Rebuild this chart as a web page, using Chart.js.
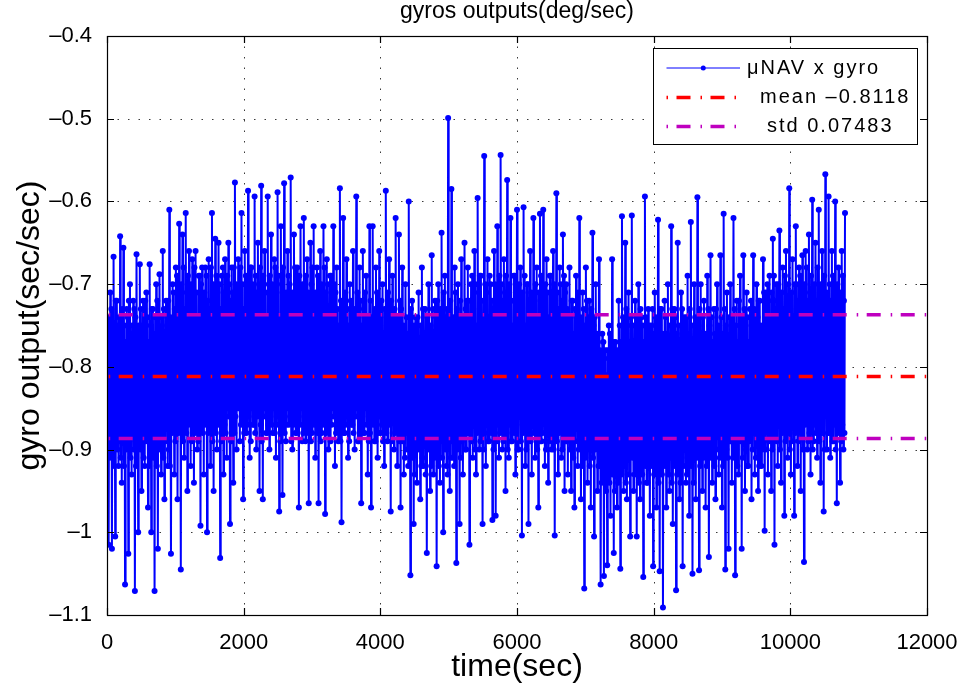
<!DOCTYPE html>
<html>
<head>
<meta charset="utf-8">
<title>gyros outputs</title>
<script src="https://cdn.jsdelivr.net/npm/chart.js@4.4.1/dist/chart.umd.min.js"></script>
<style>
  html, body { margin: 0; padding: 0; background: #fff; }
</style>
</head>
<body>
<canvas id="grafico-gyro" width="966" height="691"></canvas>
<script>
// muestreo del registro (s entre muestras de picos)
const sampleStep = 24;

// picos de la salida del giro x (alto / bajo alternados), t = 0, 24, 48 ...
const gyroOutput = [
  -0.76, -1.015, -0.71, -1.02, -0.667, -1.005, -0.72, -0.92, -0.642, -0.94, -0.656, -1.063, -0.73, -1.026, -0.70, -0.93, -0.72, -1.071, -0.664, -1.0,
  -0.676, -0.95, -0.72, -0.92, -0.71, -0.97, -0.676, -1.0, -0.73, -1.071, -0.70, -1.02, -0.688, -0.93, -0.66, -0.96, -0.72, -0.92, -0.61, -1.026,
  -0.70, -0.93, -0.68, -0.96, -0.627, -1.045, -0.64, -0.91, -0.614, -0.95, -0.66, -0.92, -0.67, -0.94, -0.66, -0.90, -0.69, -0.992, -0.68, -0.93,
  -0.68, -1.0, -0.67, -0.92, -0.614, -0.95, -0.645, -0.90, -0.65, -1.031, -0.69, -0.93, -0.67, -0.91, -0.65, -0.99, -0.68, -0.94, -0.577, -0.90,
  -0.67, -0.89, -0.614, -0.96, -0.66, -0.88, -0.587, -0.91, -0.68, -0.87, -0.594, -0.90, -0.65, -0.95, -0.581, -0.96, -0.66, -0.88, -0.594, -0.90,
  -0.64, -0.88, -0.67, -0.91, -0.589, -0.975, -0.63, -0.955, -0.578, -0.89, -0.66, -0.87, -0.571, -0.90, -0.64, -0.88, -0.68, -0.97, -0.63, -0.89,
  -0.62, -0.89, -0.67, -0.965, -0.65, -0.88, -0.63, -0.91, -0.68, -0.965, -0.66, -0.88, -0.63, -0.978, -0.67, -0.90, -0.69, -0.87, -0.63, -0.92,
  -0.68, -0.89, -0.584, -0.988, -0.62, -0.88, -0.67, -0.91, -0.70, -0.87, -0.66, -0.90, -0.594, -0.89, -0.68, -0.965, -0.66, -0.88, -0.69, -0.93,
  -0.63, -0.97, -0.63, -0.89, -0.68, -0.91, -0.66, -0.88, -0.70, -0.92, -0.587, -0.89, -0.67, -0.975, -0.69, -0.90, -0.62, -0.92, -0.64, -0.97,
  -0.68, -0.93, -0.70, -0.90, -0.60, -1.052, -0.72, -0.99, -0.74, -0.94, -0.71, -0.96, -0.68, -0.92, -0.73, -1.025, -0.70, -0.95, -0.665, -0.93,
  -0.72, -1.041, -0.70, -0.94, -0.638, -1.0, -0.69, -0.92, -0.499, -0.95, -0.585, -0.91, -0.68, -1.037, -0.70, -0.99, -0.67, -0.93, -0.65, -0.90,
  -0.68, -1.015, -0.70, -0.91, -0.66, -0.93, -0.596, -0.90, -0.69, -0.99, -0.545, -0.92, -0.67, -0.89, -0.70, -0.985, -0.66, -0.98, -0.63, -0.91,
  -0.544, -0.90, -0.67, -0.95, -0.574, -0.91, -0.62, -0.89, -0.69, -0.93, -0.61, -0.90, -0.68, -1.004, -0.607, -0.92, -0.70, -0.99, -0.66, -0.93,
  -0.62, -0.91, -0.68, -0.97, -0.615, -0.89, -0.61, -0.92, -0.67, -0.94, -0.69, -0.90, -0.66, -1.004, -0.59, -0.93, -0.68, -0.91, -0.64, -0.95,
  -0.70, -0.93, -0.68, -0.95, -0.72, -0.97, -0.69, -0.92, -0.62, -0.96, -0.71, -1.068, -0.68, -0.94, -0.72, -0.97, -0.638, -1.005, -0.70, -0.95,
  -0.67, -1.063, -0.76, -1.053, -0.78, -1.04, -0.75, -0.98, -0.67, -1.025, -0.77, -0.97, -0.72, -1.044, -0.618, -0.95, -0.65, -0.96, -0.71, -1.005,
  -0.617, -0.95, -0.72, -1.005, -0.70, -0.96, -0.74, -1.054, -0.594, -0.94, -0.73, -0.98, -0.75, -1.041, -0.71, -0.97, -0.622, -1.047, -0.73, -1.091,
  -0.72, -0.97, -0.70, -0.95, -0.63, -0.99, -0.73, -1.07, -0.65, -0.96, -0.71, -1.041, -0.74, -0.94, -0.69, -0.98, -0.625, -1.05, -0.70, -0.96,
  -0.595, -1.046, -0.70, -0.95, -0.72, -0.97, -0.69, -1.03, -0.665, -0.94, -0.73, -0.96, -0.70, -0.93, -0.665, -0.97, -0.615, -1.045, -0.71, -1.02,
  -0.70, -0.94, -0.62, -1.052, -0.72, -0.93, -0.69, -1.02, -0.665, -0.95, -0.71, -0.92, -0.73, -0.96, -0.665, -0.93, -0.70, -0.95, -0.72, -0.92,
  -0.67, -0.998, -0.71, -0.93, -0.69, -0.95, -0.645, -1.015, -0.70, -0.92, -0.635, -0.94, -0.68, -0.98, -0.66, -0.91, -0.584, -0.93, -0.67, -0.98,
  -0.63, -0.92, -0.68, -0.95, -0.665, -1.036, -0.66, -0.90, -0.64, -0.93, -0.598, -0.89, -0.65, -0.91, -0.61, -0.94, -0.66, -0.975, -0.567, -0.90,
  -0.594, -0.91, -0.66, -0.89, -0.60, -0.965, -0.68, -0.94, -0.66, -0.90, -0.614
];

// borde alto del nucleo solido de la banda, una muestra por intervalo
const coreHigh = [
  -0.74, -0.76, -0.73, -0.75, -0.77, -0.72, -0.75, -0.74, -0.76, -0.73, -0.75, -0.77, -0.74, -0.72, -0.76, -0.75, -0.73, -0.74, -0.77, -0.75,
  -0.73, -0.75, -0.76, -0.72, -0.74, -0.77, -0.75, -0.73, -0.76, -0.74, -0.72, -0.75, -0.77, -0.74, -0.73, -0.76, -0.75, -0.72, -0.74, -0.76,
  -0.71, -0.73, -0.69, -0.72, -0.74, -0.70, -0.68, -0.73, -0.71, -0.69, -0.74, -0.70, -0.72, -0.68, -0.71, -0.74, -0.69, -0.70, -0.73, -0.71,
  -0.69, -0.72, -0.73, -0.68, -0.70, -0.74, -0.69, -0.71, -0.70, -0.73, -0.68, -0.71, -0.74, -0.69, -0.70, -0.72, -0.71, -0.68, -0.70, -0.73,
  -0.71, -0.68, -0.70, -0.73, -0.69, -0.71, -0.74, -0.68, -0.70, -0.72, -0.69, -0.71, -0.70, -0.68, -0.73, -0.69, -0.71, -0.74, -0.70, -0.69,
  -0.70, -0.72, -0.68, -0.71, -0.69, -0.74, -0.70, -0.68, -0.72, -0.71, -0.69, -0.70, -0.73, -0.71, -0.68, -0.70, -0.72, -0.69, -0.71, -0.70,
  -0.72, -0.69, -0.71, -0.74, -0.70, -0.68, -0.72, -0.71, -0.69, -0.73, -0.70, -0.72, -0.68, -0.71, -0.70, -0.73, -0.69, -0.72, -0.70, -0.71,
  -0.73, -0.75, -0.72, -0.74, -0.76, -0.71, -0.73, -0.75, -0.72, -0.74, -0.73, -0.76, -0.71, -0.74, -0.72, -0.75, -0.73, -0.71, -0.74, -0.76,
  -0.72, -0.74, -0.76, -0.73, -0.71, -0.75, -0.74, -0.72, -0.76, -0.73, -0.75, -0.71, -0.74, -0.72, -0.76, -0.73, -0.75, -0.74, -0.72, -0.73,
  -0.75, -0.77, -0.74, -0.76, -0.78, -0.73, -0.76, -0.75, -0.77, -0.74, -0.78, -0.75, -0.73, -0.76, -0.77, -0.74, -0.76, -0.75, -0.73, -0.77,
  -0.74, -0.72, -0.75, -0.73, -0.76, -0.71, -0.74, -0.73, -0.75, -0.72, -0.76, -0.74, -0.71, -0.73, -0.75, -0.72, -0.74, -0.76, -0.73, -0.72,
  -0.72, -0.74, -0.69, -0.73, -0.70, -0.75, -0.71, -0.69, -0.74, -0.72, -0.70, -0.71, -0.75, -0.69, -0.72, -0.74, -0.70, -0.71, -0.73, -0.69,
  -0.70, -0.72, -0.71, -0.69, -0.74, -0.70, -0.72, -0.75, -0.69, -0.71, -0.74, -0.70, -0.72, -0.71, -0.69, -0.75, -0.70, -0.72, -0.71, -0.73,
  -0.72, -0.70, -0.74, -0.71, -0.69, -0.72, -0.75, -0.70, -0.71, -0.74, -0.69, -0.72, -0.70, -0.75, -0.71, -0.73, -0.70, -0.72, -0.69, -0.71,
  -0.73, -0.75, -0.74, -0.72, -0.76, -0.73, -0.75, -0.71, -0.74, -0.76, -0.73, -0.75, -0.72, -0.74, -0.77, -0.73, -0.75, -0.74, -0.76, -0.77,
  -0.78, -0.80, -0.77, -0.79, -0.81, -0.78, -0.76, -0.80, -0.79, -0.77, -0.81, -0.78, -0.75, -0.77, -0.74, -0.76, -0.73, -0.75, -0.77, -0.74,
  -0.75, -0.77, -0.74, -0.76, -0.78, -0.73, -0.75, -0.77, -0.74, -0.76, -0.75, -0.78, -0.73, -0.76, -0.74, -0.77, -0.75, -0.73, -0.76, -0.78,
  -0.74, -0.76, -0.78, -0.75, -0.73, -0.77, -0.74, -0.76, -0.75, -0.78, -0.73, -0.75, -0.77, -0.74, -0.76, -0.73, -0.75, -0.78, -0.74, -0.76,
  -0.75, -0.73, -0.77, -0.74, -0.76, -0.78, -0.73, -0.75, -0.74, -0.77, -0.76, -0.73, -0.75, -0.78, -0.74, -0.76, -0.73, -0.75, -0.77, -0.74,
  -0.74, -0.76, -0.73, -0.75, -0.77, -0.72, -0.74, -0.76, -0.73, -0.75, -0.74, -0.77, -0.72, -0.75, -0.73, -0.76, -0.74, -0.72, -0.75, -0.77,
  -0.71, -0.74, -0.70, -0.72, -0.75, -0.71, -0.69, -0.73, -0.72, -0.70, -0.74, -0.71, -0.73, -0.69, -0.72, -0.70, -0.73, -0.71, -0.74, -0.70,
  -0.70, -0.72, -0.69, -0.71, -0.73, -0.70, -0.68, -0.72, -0.71, -0.69, -0.73, -0.70, -0.72, -0.68, -0.71, -0.70, -0.72, -0.69, -0.71, -0.73,
  -0.70, -0.72, -0.69, -0.71, -0.73, -0.70, -0.72, -0.71, -0.69, -0.72
];

// borde bajo del nucleo solido de la banda, una muestra por intervalo
const coreLow = [
  -0.89, -0.91, -0.88, -0.90, -0.92, -0.87, -0.90, -0.89, -0.91, -0.88, -0.92, -0.90, -0.87, -0.89, -0.91, -0.88, -0.90, -0.92, -0.89, -0.87,
  -0.90, -0.88, -0.91, -0.89, -0.87, -0.92, -0.90, -0.88, -0.91, -0.89, -0.92, -0.87, -0.90, -0.88, -0.91, -0.89, -0.87, -0.90, -0.92, -0.88,
  -0.87, -0.89, -0.86, -0.88, -0.85, -0.87, -0.89, -0.86, -0.88, -0.87, -0.85, -0.89, -0.86, -0.88, -0.87, -0.89, -0.85, -0.86, -0.88, -0.87,
  -0.86, -0.88, -0.87, -0.85, -0.89, -0.86, -0.88, -0.87, -0.85, -0.89, -0.86, -0.87, -0.88, -0.85, -0.86, -0.89, -0.87, -0.88, -0.86, -0.85,
  -0.85, -0.87, -0.86, -0.88, -0.85, -0.87, -0.86, -0.89, -0.85, -0.87, -0.88, -0.86, -0.85, -0.87, -0.89, -0.86, -0.85, -0.88, -0.87, -0.86,
  -0.87, -0.85, -0.88, -0.86, -0.87, -0.89, -0.85, -0.86, -0.88, -0.87, -0.85, -0.86, -0.89, -0.87, -0.85, -0.88, -0.86, -0.87, -0.85, -0.88,
  -0.86, -0.88, -0.85, -0.87, -0.89, -0.86, -0.87, -0.85, -0.88, -0.86, -0.89, -0.87, -0.85, -0.88, -0.86, -0.87, -0.89, -0.85, -0.86, -0.88,
  -0.87, -0.86, -0.89, -0.85, -0.88, -0.87, -0.86, -0.89, -0.85, -0.87, -0.88, -0.86, -0.85, -0.89, -0.87, -0.86, -0.88, -0.85, -0.87, -0.89,
  -0.88, -0.86, -0.87, -0.89, -0.85, -0.88, -0.86, -0.87, -0.89, -0.86, -0.88, -0.85, -0.87, -0.89, -0.86, -0.88, -0.87, -0.85, -0.89, -0.87,
  -0.89, -0.91, -0.88, -0.92, -0.90, -0.87, -0.91, -0.93, -0.89, -0.90, -0.88, -0.92, -0.91, -0.89, -0.93, -0.88, -0.90, -0.92, -0.89, -0.91,
  -0.90, -0.88, -0.92, -0.89, -0.91, -0.87, -0.90, -0.93, -0.88, -0.91, -0.89, -0.92, -0.87, -0.90, -0.88, -0.91, -0.89, -0.87, -0.90, -0.88,
  -0.88, -0.86, -0.89, -0.87, -0.90, -0.88, -0.86, -0.89, -0.87, -0.90, -0.88, -0.86, -0.89, -0.87, -0.88, -0.90, -0.86, -0.89, -0.87, -0.88,
  -0.87, -0.89, -0.86, -0.88, -0.90, -0.87, -0.89, -0.86, -0.88, -0.87, -0.90, -0.86, -0.89, -0.88, -0.87, -0.90, -0.86, -0.88, -0.89, -0.87,
  -0.88, -0.86, -0.90, -0.87, -0.89, -0.88, -0.86, -0.90, -0.87, -0.89, -0.88, -0.86, -0.90, -0.87, -0.89, -0.88, -0.87, -0.90, -0.86, -0.89,
  -0.89, -0.87, -0.90, -0.88, -0.91, -0.89, -0.87, -0.90, -0.88, -0.92, -0.89, -0.91, -0.88, -0.90, -0.92, -0.89, -0.91, -0.90, -0.88, -0.92,
  -0.92, -0.94, -0.91, -0.93, -0.95, -0.92, -0.94, -0.91, -0.93, -0.95, -0.92, -0.94, -0.91, -0.93, -0.90, -0.92, -0.94, -0.91, -0.93, -0.90,
  -0.91, -0.93, -0.90, -0.92, -0.94, -0.91, -0.93, -0.89, -0.92, -0.94, -0.90, -0.92, -0.91, -0.93, -0.89, -0.92, -0.94, -0.90, -0.93, -0.91,
  -0.92, -0.90, -0.93, -0.91, -0.94, -0.89, -0.92, -0.93, -0.90, -0.94, -0.91, -0.92, -0.90, -0.93, -0.91, -0.89, -0.92, -0.94, -0.90, -0.91,
  -0.90, -0.92, -0.89, -0.91, -0.88, -0.92, -0.90, -0.89, -0.91, -0.88, -0.92, -0.90, -0.87, -0.91, -0.89, -0.92, -0.88, -0.90, -0.91, -0.89,
  -0.89, -0.91, -0.88, -0.90, -0.92, -0.87, -0.89, -0.91, -0.88, -0.90, -0.92, -0.89, -0.87, -0.90, -0.88, -0.91, -0.89, -0.92, -0.88, -0.90,
  -0.88, -0.90, -0.87, -0.89, -0.86, -0.90, -0.88, -0.87, -0.89, -0.86, -0.90, -0.88, -0.87, -0.89, -0.86, -0.88, -0.90, -0.87, -0.89, -0.88,
  -0.87, -0.89, -0.86, -0.88, -0.90, -0.87, -0.86, -0.89, -0.88, -0.86, -0.90, -0.87, -0.88, -0.86, -0.89, -0.87, -0.88, -0.90, -0.86, -0.88,
  -0.88, -0.86, -0.89, -0.87, -0.90, -0.88, -0.86, -0.89, -0.87, -0.88
];

const meanValue = -0.8118;
const stdValue = 0.07483;
const xRange = [0, 12000];

const xTicks = [0, 2000, 4000, 6000, 8000, 10000, 12000];
const xTickLabels = ["0", "2000", "4000", "6000", "8000", "10000", "12000"];
const yTicks = [-1.1, -1.0, -0.9, -0.8, -0.7, -0.6, -0.5, -0.4];
const yTickLabels = ["\u20131.1", "\u20131", "\u20130.9", "\u20130.8", "\u20130.7", "\u20130.6", "\u20130.5", "\u20130.4"];

const legendLabels = ["\u03bcNAV x gyro", "mean \u20130.8118", "std 0.07483"];
const chartTitle = "gyros outputs(deg/sec)";
const xTitle = "time(sec)";
const yTitle = "gyro output(sec/sec)";

const FONT = "'Liberation Sans', Arial, Helvetica, sans-serif";
const BLUE = "#0000ff";
const RED = "#ff0000";
const MAGENTA = "#bf00bf";
const DASHDOT = [14, 10, 1.5, 8.5];

Chart.defaults.font.family = FONT;
Chart.defaults.color = "#000";

function lookupLabel(ticks, labels, value) {
  const i = ticks.findIndex((t) => Math.abs(t - value) < 1e-9);
  return i >= 0 ? labels[i] : "";
}

function flatLine(y) {
  return xRange.map((x) => ({ x, y }));
}

// junta picos y nucleo en una sola serie ordenada por tiempo:
// tras un pico alto viene el borde bajo y luego el alto, y al reves tras un pico bajo
function buildSeries() {
  const pts = [];
  const third = sampleStep / 3;
  gyroOutput.forEach((v, i) => {
    const t = i * sampleStep;
    pts.push({ x: t, y: v });
    if (i >= coreHigh.length) return;
    const pair = i % 2 === 0 ? [coreLow[i], coreHigh[i]] : [coreHigh[i], coreLow[i]];
    pts.push({ x: t + third, y: pair[0] });
    pts.push({ x: t + 2 * third, y: pair[1] });
  });
  return pts;
}

// ejes estilo matlab: grilla punteada, caja, ticks hacia adentro, titulo y leyenda
const matlabAxes = {
  id: "matlabAxes",
  beforeDatasetsDraw(chart) {
    const { ctx, chartArea: a, scales } = chart;
    ctx.save();
    ctx.strokeStyle = "#3a3a3a";
    ctx.lineWidth = 1;
    ctx.setLineDash([1.5, 9]);
    xTicks.forEach((v) => {
      const px = Math.round(scales.x.getPixelForValue(v)) + 0.5;
      if (px <= a.left + 1 || px >= a.right - 1) return;
      ctx.beginPath();
      ctx.moveTo(px, a.bottom);
      ctx.lineTo(px, a.top);
      ctx.stroke();
    });
    yTicks.forEach((v) => {
      const py = Math.round(scales.y.getPixelForValue(v)) + 0.5;
      if (py <= a.top + 1 || py >= a.bottom - 1) return;
      ctx.beginPath();
      ctx.moveTo(a.left, py);
      ctx.lineTo(a.right, py);
      ctx.stroke();
    });
    ctx.restore();
  },
  afterDatasetsDraw(chart) {
    const { ctx, chartArea: a, scales } = chart;
    const tl = 7;
    ctx.save();
    ctx.strokeStyle = "#000";
    ctx.lineWidth = 1.2;
    ctx.setLineDash([]);
    ctx.strokeRect(a.left + 0.5, a.top + 0.5, a.right - a.left, a.bottom - a.top);
    ctx.beginPath();
    xTicks.forEach((v) => {
      const px = Math.round(scales.x.getPixelForValue(v)) + 0.5;
      ctx.moveTo(px, a.bottom);
      ctx.lineTo(px, a.bottom - tl);
      ctx.moveTo(px, a.top);
      ctx.lineTo(px, a.top + tl);
    });
    yTicks.forEach((v) => {
      const py = Math.round(scales.y.getPixelForValue(v)) + 0.5;
      ctx.moveTo(a.left, py);
      ctx.lineTo(a.left + tl, py);
      ctx.moveTo(a.right, py);
      ctx.lineTo(a.right - tl, py);
    });
    ctx.stroke();
    ctx.restore();
  },
  afterDraw(chart) {
    const { ctx, chartArea: a } = chart;
    ctx.save();
    // titulo
    ctx.fillStyle = "#000";
    ctx.font = "23px " + FONT;
    ctx.textAlign = "center";
    ctx.textBaseline = "alphabetic";
    ctx.fillText(chartTitle, (a.left + a.right) / 2, 18);

    // leyenda
    const box = { x: 653.5, y: 48.5, w: 264, h: 96 };
    ctx.fillStyle = "#fff";
    ctx.fillRect(box.x, box.y, box.w, box.h);
    ctx.strokeStyle = "#000";
    ctx.lineWidth = 1;
    ctx.strokeRect(box.x, box.y, box.w, box.h);

    const rows = [
      { y: 68, textX: 747, ds: chart.data.datasets[0], lw: 1 },
      { y: 97.5, textX: 760, ds: chart.data.datasets[1] },
      { y: 126.5, textX: 767, ds: chart.data.datasets[2] },
    ];
    const x0 = 666.5, x1 = 740;
    rows.forEach((r, i) => {
      ctx.save();
      ctx.strokeStyle = r.ds.borderColor;
      ctx.lineWidth = r.lw || r.ds.borderWidth;
      ctx.setLineDash(r.ds.borderDash || []);
      ctx.lineDashOffset = 24;
      ctx.beginPath();
      ctx.moveTo(x0, r.y);
      ctx.lineTo(x1, r.y);
      ctx.stroke();
      if (r.ds.pointRadius > 0) {
        ctx.fillStyle = r.ds.backgroundColor;
        ctx.beginPath();
        ctx.arc((x0 + x1) / 2, r.y, 2.5, 0, Math.PI * 2);
        ctx.fill();
      }
      ctx.restore();
      ctx.fillStyle = "#000";
      ctx.font = "20px " + FONT;
      try { ctx.letterSpacing = "2px"; } catch (e) {}
      ctx.textAlign = "left";
      ctx.textBaseline = "middle";
      ctx.fillText(legendLabels[i], r.textX, r.y);
    });
    ctx.restore();
  },
};

const lineaEstilo = {
  borderWidth: 3.5,
  borderDash: DASHDOT,
  borderDashOffset: 22.3,
  pointRadius: 0,
  pointHoverRadius: 0,
  fill: false,
  order: 1,
};

new Chart(document.getElementById("grafico-gyro"), {
  type: "line",
  data: {
    datasets: [
      {
        label: legendLabels[0],
        data: buildSeries(),
        borderColor: BLUE,
        backgroundColor: BLUE,
        borderWidth: 2,
        pointRadius: 3,
        pointBorderWidth: 0,
        pointHoverRadius: 0,
        tension: 0,
        fill: false,
        order: 2,
      },
      { label: legendLabels[1], data: flatLine(meanValue), borderColor: RED, ...lineaEstilo },
      { label: legendLabels[2], data: flatLine(meanValue + stdValue), borderColor: MAGENTA, ...lineaEstilo },
      { label: "", data: flatLine(meanValue - stdValue), borderColor: MAGENTA, ...lineaEstilo },
    ],
  },
  options: {
    responsive: false,
    animation: false,
    events: [],
    layout: { padding: { top: 36, right: 39, left: 0, bottom: 0 } },
    plugins: {
      legend: { display: false },
      title: { display: false },
      tooltip: { enabled: false },
    },
    scales: {
      x: {
        type: "linear",
        min: xRange[0],
        max: xRange[1],
        afterBuildTicks: (s) => { s.ticks = xTicks.map((v) => ({ value: v })); },
        afterFit: (s) => { s.height = 76; },
        grid: { display: false },
        border: { display: false },
        ticks: {
          padding: 7,
          maxRotation: 0,
          autoSkip: false,
          font: { size: 22 },
          callback: (v) => lookupLabel(xTicks, xTickLabels, v),
        },
        title: { display: true, text: xTitle, font: { size: 32 }, padding: { top: 0, bottom: 5 } },
      },
      y: {
        type: "linear",
        min: -1.1,
        max: -0.4,
        afterBuildTicks: (s) => { s.ticks = yTicks.map((v) => ({ value: v })); },
        afterFit: (s) => { s.width = 107; },
        grid: { display: false },
        border: { display: false },
        ticks: {
          padding: 7,
          autoSkip: false,
          font: { size: 22 },
          callback: (v) => lookupLabel(yTicks, yTickLabels, v),
        },
        title: { display: true, text: yTitle, font: { size: 32 }, padding: { top: 11, bottom: 0 } },
      },
    },
  },
  plugins: [matlabAxes],
});
</script>
</body>
</html>
